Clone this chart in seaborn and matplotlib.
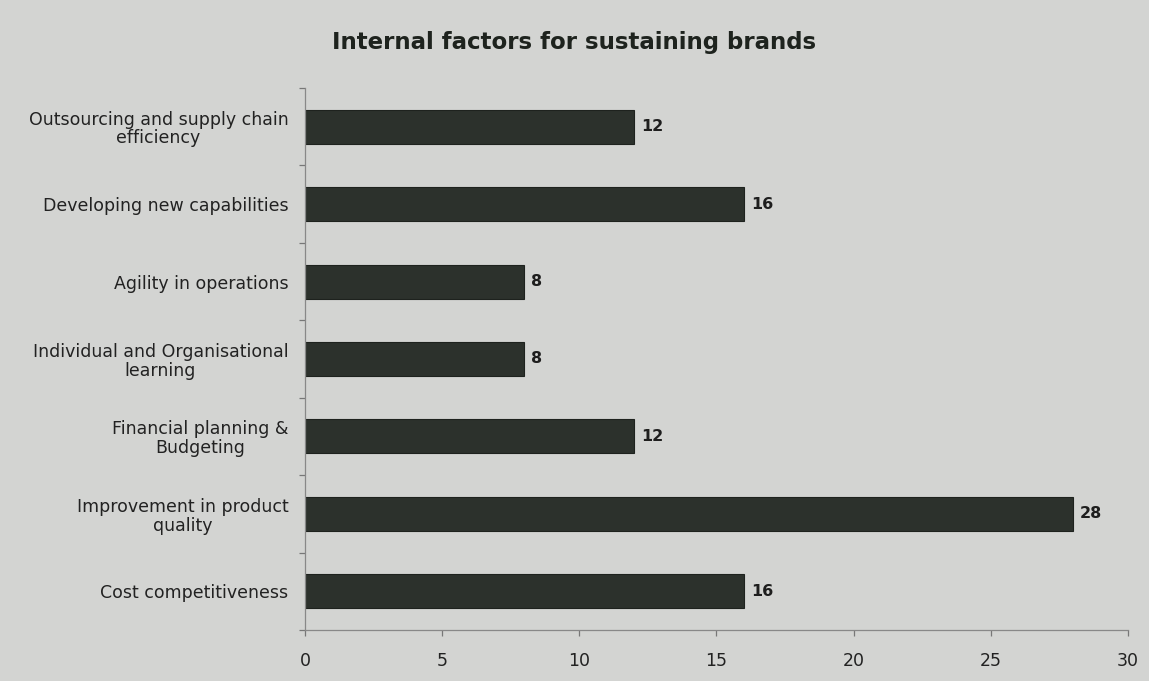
import matplotlib
matplotlib.use("Agg")
import matplotlib.pyplot as plt
import seaborn as sns
import pandas as pd
import numpy as np

categories = [
    "Outsourcing and supply chain\nefficiency",
    "Developing new capabilities",
    "Agility in operations",
    "Individual and Organisational\nlearning",
    "Financial planning &\nBudgeting",
    "Improvement in product\nquality",
    "Cost competitiveness",
]
values = [12, 16, 8, 8, 12, 28, 16]
xticks = [0, 5, 10, 15, 20, 25, 30]

sns.set_style("white")
plt.rcParams['font.family'] = ['DejaVu Sans']

bg = "#d3d4d2"
fig = plt.figure(figsize=(11.49, 6.81), dpi=100, facecolor=bg)
ax = fig.add_axes([0.2654, 0.0749, 0.7163, 0.7959])
ax.set_facecolor(bg)

df = pd.DataFrame({"factor": categories, "value": values})
sns.barplot(data=df, x="value", y="factor", orient="h", color="#2c312c",
            saturation=1, width=0.44, edgecolor="#1e221e", linewidth=0.8, ax=ax)

ax.set_xlim(0, 30)
ax.set_ylim(6.5, -0.5)
ax.set_xticks(xticks)
ax.set_xticklabels([str(t) for t in xticks], fontsize=12.5, color="#222222")
ax.set_yticks(range(len(categories)))
ax.set_yticklabels(categories, fontsize=12.5, color="#222222", linespacing=1.05,
                   multialignment="center")
ax.set_yticks(np.arange(-0.5, len(categories), 1.0), minor=True)
ax.tick_params(axis="y", which="major", left=False, length=0, pad=12)
ax.tick_params(axis="y", which="minor", left=True, length=4, width=0.9,
               color="#777777", direction="out")
ax.tick_params(axis="x", bottom=True, length=4, width=0.9, color="#777777",
               direction="out", pad=12)
ax.set_xlabel("")
ax.set_ylabel("")
for s in ["top", "right"]:
    ax.spines[s].set_visible(False)
for s in ["left", "bottom"]:
    ax.spines[s].set_color("#888888")
    ax.spines[s].set_linewidth(0.9)

for i, v in enumerate(values):
    ax.text(v + 0.25, i, str(v), va="center", ha="left", fontsize=11.5,
            fontweight="bold", color="#1e1e1e")

fig.text(0.5, 0.938, "Internal factors for sustaining brands", ha="center",
         va="center", fontsize=16.5, fontweight="bold", color="#1e231e")

fig.savefig("out.png", dpi=100, facecolor=bg)
